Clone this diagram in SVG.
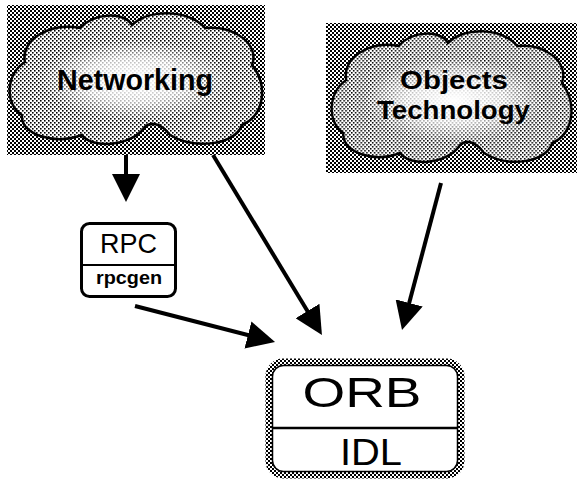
<svg xmlns="http://www.w3.org/2000/svg" width="577" height="480" viewBox="0 0 577 480">
<defs>
  <pattern id="dots" width="4" height="4" patternUnits="userSpaceOnUse">
    <rect width="4" height="4" fill="#fff"/>
    <rect x="0" y="0" width="2" height="2" fill="#000"/>
    <rect x="2" y="2" width="2" height="2" fill="#000"/>
  </pattern>
  <pattern id="dotsLight" width="4" height="4" patternUnits="userSpaceOnUse">
    <rect width="4" height="4" fill="#fff"/>
    <rect x="0" y="0" width="1.6" height="1.6" fill="#000"/>
    <rect x="2" y="2" width="1.6" height="1.6" fill="#000"/>
  </pattern>
  <radialGradient id="glow" cx="0.5" cy="0.5" r="0.5">
    <stop offset="0" stop-color="#fff" stop-opacity="1"/>
    <stop offset="0.55" stop-color="#fff" stop-opacity="0.7"/>
    <stop offset="1" stop-color="#fff" stop-opacity="0"/>
  </radialGradient>
  <path id="cloud" d="M15,52 C10,30 40,12 70,18 C85,2 115,2 122,15 C140,-2 180,0 195,18 C225,15 250,35 242,55 C258,75 255,105 232,115 C225,135 185,140 160,125 C150,112 140,112 135,117 C120,138 80,138 72,125 C45,135 10,125 12,105 C-5,95 -5,65 15,52 Z"/>
  <marker id="head" markerUnits="userSpaceOnUse" markerWidth="28" markerHeight="28" viewBox="0 0 28 28" refX="14" refY="14" orient="auto">
    <path d="M0,0 L28,14 L0,28 Z" fill="#000"/>
  </marker>
  <style>
    .bg { fill: url(#dots); }
    .cl { fill: url(#dotsLight); stroke: #000; stroke-width: 2.5; }
    .big { font-family: "Liberation Sans", Arial, sans-serif; font-weight: bold; text-anchor: middle; fill: #000; }
    .reg { font-family: "Liberation Sans", Arial, sans-serif; text-anchor: middle; fill: #000; }
    .arr { stroke: #000; stroke-width: 4; fill: none; marker-end: url(#head); }
    .box { fill: #fff; stroke: #000; stroke-width: 3; }
    .div { stroke: #000; stroke-width: 2; }
  </style>
</defs>
<rect width="577" height="480" fill="#fff"/>

<g id="networking">
  <rect class="bg" x="7" y="5" width="258" height="150"/>
  <use href="#cloud" class="cl" transform="translate(10,10)"/>
  <ellipse cx="135" cy="80" rx="95" ry="40" fill="url(#glow)"/>
  <text class="big" x="135" y="90" font-size="29" textLength="156" lengthAdjust="spacingAndGlyphs">Networking</text>
</g>

<g id="objects">
  <rect class="bg" x="326" y="23" width="251" height="150"/>
  <use href="#cloud" class="cl" transform="translate(332,28) scale(0.95,1)"/>
  <ellipse cx="454" cy="100" rx="90" ry="42" fill="url(#glow)"/>
  <text class="big" x="454" y="89" font-size="25" textLength="108" lengthAdjust="spacingAndGlyphs">Objects</text>
  <text class="big" x="453.5" y="119" font-size="25" textLength="153" lengthAdjust="spacingAndGlyphs">Technology</text>
</g>

<g id="rpc">
  <rect class="box" x="81.5" y="223.5" width="94" height="73" rx="8"/>
  <line class="div" x1="81.5" y1="265" x2="175.5" y2="265"/>
  <text class="reg" x="128.5" y="253" font-size="28" textLength="57" lengthAdjust="spacingAndGlyphs">RPC</text>
  <text class="big" x="129" y="284" font-size="19" textLength="66" lengthAdjust="spacingAndGlyphs">rpcgen</text>
</g>

<g id="orb">
  <rect x="269" y="362" width="192" height="113" rx="14" fill="#fff" stroke="url(#dots)" stroke-width="7"/>
  <rect x="272.5" y="365.5" width="185" height="106" rx="11" fill="none" stroke="#000" stroke-width="1.5"/>
  <line x1="272.5" y1="428" x2="457.5" y2="428" stroke="#000" stroke-width="2.5"/>
  <text class="reg" x="362" y="407" font-size="42" textLength="119" lengthAdjust="spacingAndGlyphs">ORB</text>
  <text class="reg" x="371" y="465" font-size="37" textLength="62" lengthAdjust="spacingAndGlyphs">IDL</text>
</g>

<g id="connectors">
  <line class="arr" x1="126" y1="155" x2="126" y2="188"/>
  <line class="arr" x1="213" y1="155" x2="314.7" y2="323"/>
  <line class="arr" x1="441" y1="183" x2="405.6" y2="316.5"/>
  <line class="arr" x1="135" y1="306" x2="261.5" y2="338.5"/>
</g>
</svg>
